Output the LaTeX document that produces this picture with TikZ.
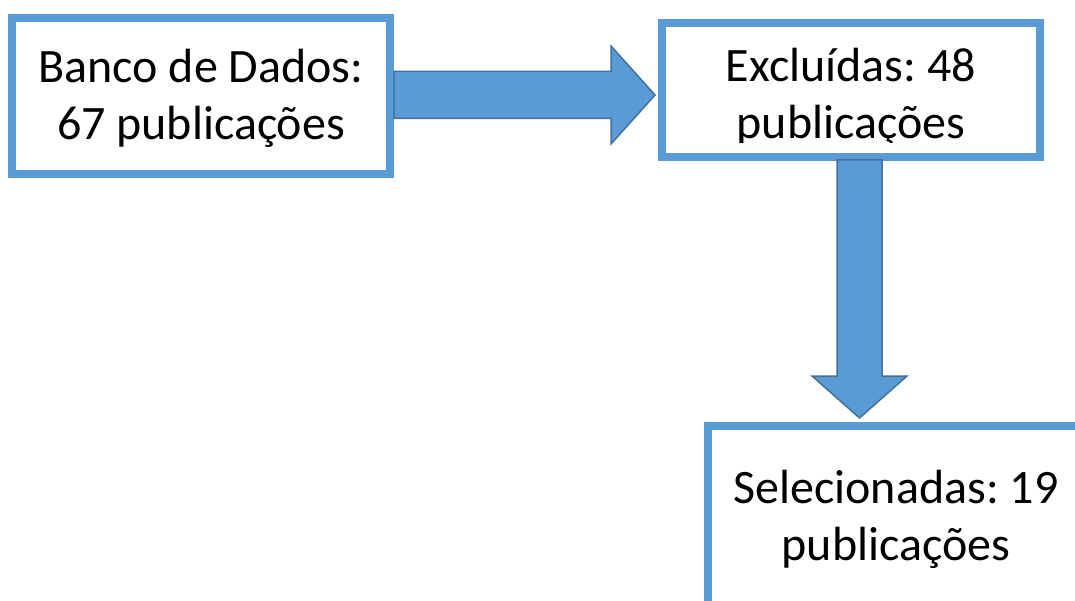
\documentclass[tikz,border=0pt]{standalone}
\usepackage{fontspec}
\setmainfont{Carlito}
\frenchspacing
\usetikzlibrary{calc}
\definecolor{azul}{HTML}{5B9BD5}
\definecolor{azulescuro}{HTML}{41719C}
\begin{document}
\begin{tikzpicture}[x=1pt,y=-1pt,
   caixa/.style={draw=azul,line width=8pt,fill=white,inner sep=0pt,minimum width=378pt},
   texto/.style={align=center,font=\fontsize{48}{57}\selectfont,inner sep=0pt,anchor=base},
   seta/.style={fill=azul,draw=azulescuro,line width=1.5pt}]
   \useasboundingbox (0,0) rectangle (1075,601);
   % caixas
   \node[caixa,minimum height=156pt] (db) at (201,96) {};
   \node[caixa,minimum height=134pt] (exc) at (851,90) {};
   \node[caixa,minimum width=376pt,minimum height=190pt] (sel) at (896,521) {};

   % textos (base = linha de baixo)
   \node[texto] (dbtxt) at (201,140) {Banco de Dados:\\67 publicações};
   \begin{scope}
      \clip (666,27) rectangle (1036,143);
      \node[texto] (exctxt) at (851,139) {Excluídas: 48\\publicações};
   \end{scope}
   \node[texto] (seltxt) at (896,560) {Selecionadas: 19\\publicações};

   % setas
   \coordinate (a1s) at ($(db.east)+(0,-1)$);
   \coordinate (a1e) at ($(exc.west |- a1s)+(-3,0)$);
   \draw[seta] ($(a1s)+(0,-23.5)$) -- ($(a1e)+(-44,-23.5)$) -- ($(a1e)+(-44,-49)$) -- (a1e)
      -- ($(a1e)+(-44,49)$) -- ($(a1e)+(-44,23.5)$) -- ($(a1s)+(0,23.5)$) -- cycle;
   \coordinate (a2s) at ($(exc.south)+(8.5,-1)$);
   \coordinate (a2e) at ($(a2s |- sel.north)+(0,-4)$);
   \draw[seta] ($(a2s)+(-22.5,0)$) -- ($(a2e)+(-22.5,-42)$) -- ($(a2e)+(-47.5,-42)$) -- (a2e)
      -- ($(a2e)+(47.5,-42)$) -- ($(a2e)+(22.5,-42)$) -- ($(a2s)+(22.5,0)$) -- cycle;
\end{tikzpicture}
\end{document}
